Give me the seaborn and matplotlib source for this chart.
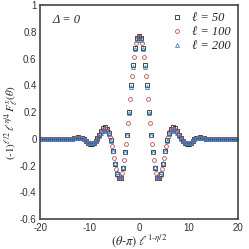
import matplotlib
matplotlib.use("Agg")
import matplotlib.pyplot as plt
import numpy as np
import pandas as pd
import seaborn as sns
from matplotlib.ticker import MultipleLocator

# scaled angle (theta - pi) * l^(1 - eta/2); l=100 sits half a step off the others
x_grid = np.arange(-20, 20.001, 0.4)
x_grid_half = np.arange(-19.8, 19.801, 0.4)

# values, left to right
y_l50 = [0, 0, 0, 0, 0, 0, 0, 0, 0, 0, 0,
         -0.001, -0.002, -0.003, -0.003, -0.002, 0.001, 0.005, 0.009, 0.011, 0.009,
         0.004, -0.005, -0.018, -0.032, -0.04, -0.04, -0.033, -0.018, 0.005, 0.03,
         0.06, 0.08, 0.085, 0.075, 0.045, -0.01, -0.09, -0.19, -0.26, -0.295,
         -0.29, -0.22, -0.10, 0.03, 0.20, 0.40, 0.55, 0.68, 0.75,
         0.77,
         0.75, 0.68, 0.55, 0.40, 0.20, 0.03, -0.10, -0.22, -0.29, -0.295,
         -0.26, -0.19, -0.09, -0.01, 0.045, 0.075, 0.085, 0.08, 0.06, 0.03,
         0.005, -0.018, -0.033, -0.04, -0.04, -0.032, -0.018, -0.005, 0.004, 0.009,
         0.011, 0.009, 0.005, 0.001, -0.002, -0.003, -0.003, -0.002, -0.001,
         0, 0, 0, 0, 0, 0, 0, 0, 0, 0, 0]

y_l100 = [0, 0, 0, 0, 0, 0, 0, 0, 0, 0, 0,
          -0.001, -0.002, -0.002, -0.002, 0.0, 0.002, 0.006, 0.008, 0.008, 0.005,
          0.0, -0.01, -0.021, -0.03, -0.034, -0.031, -0.023, -0.007, 0.014, 0.038,
          0.06, 0.072, 0.072, 0.056, 0.015, -0.05, -0.14, -0.225, -0.275, -0.295,
          -0.255, -0.16, -0.04, 0.115, 0.30, 0.47, 0.615, 0.715, 0.76,
          0.76, 0.715, 0.615, 0.47, 0.30, 0.115, -0.04, -0.16, -0.255, -0.295,
          -0.275, -0.225, -0.14, -0.05, 0.015, 0.056, 0.072, 0.072, 0.06, 0.038,
          0.014, -0.007, -0.023, -0.031, -0.034, -0.03, -0.021, -0.01, 0.0, 0.005,
          0.008, 0.008, 0.006, 0.002, 0.0, -0.002, -0.002, -0.002, -0.001,
          0, 0, 0, 0, 0, 0, 0, 0, 0, 0, 0]

y_l200 = [0, 0, 0, 0, 0, 0, 0, 0, 0, 0, 0,
          0, -0.001, -0.002, -0.002, -0.001, 0.001, 0.003, 0.006, 0.007, 0.006,
          0.003, -0.003, -0.012, -0.022, -0.028, -0.028, -0.024, -0.014, 0.002, 0.021,
          0.043, 0.058, 0.063, 0.058, 0.035, -0.015, -0.09, -0.18, -0.25, -0.285,
          -0.28, -0.21, -0.10, 0.025, 0.195, 0.39, 0.54, 0.67, 0.74,
          0.76,
          0.74, 0.67, 0.54, 0.39, 0.195, 0.025, -0.10, -0.21, -0.28, -0.285,
          -0.25, -0.18, -0.09, -0.015, 0.035, 0.058, 0.063, 0.058, 0.043, 0.021,
          0.002, -0.014, -0.024, -0.028, -0.028, -0.022, -0.012, -0.003, 0.003, 0.006,
          0.007, 0.006, 0.003, 0.001, -0.001, -0.002, -0.002, -0.001, 0,
          0, 0, 0, 0, 0, 0, 0, 0, 0, 0, 0]

series_labels = ["\u2113 = 50", "\u2113 = 100", "\u2113 = 200"]
series_x = [x_grid, x_grid_half, x_grid]
series_values = [y_l50, y_l100, y_l200]
series_colors = ["#2a2a2a", "#c0504d", "#3c7fc4"]
series_markers = ["s", "o", "^"]

sns.set_style("white")
plt.rcParams["mathtext.fontset"] = "stix"
plt.rcParams["font.family"] = ["Liberation Sans", "DejaVu Sans"]

fig = plt.figure(figsize=(2.49, 2.49), dpi=100)
ax = fig.add_axes([0.161, 0.12, 0.795, 0.86])

for label, xs, vals, col, mk in zip(series_labels, series_x, series_values,
                                    series_colors, series_markers):
    df = pd.DataFrame({"x": xs, "y": vals})
    sns.lineplot(data=df, x="x", y="y", ax=ax, color=col, marker=mk,
                 markersize=2.8, mfc="none", mec=col, mew=0.6,
                 linestyle="", label=label)

ax.set_xlim(-20, 20)
ax.set_ylim(-0.6, 1.0)
ax.xaxis.set_minor_locator(MultipleLocator(2))
ax.yaxis.set_minor_locator(MultipleLocator(0.05))
ax.set_yticks(np.arange(-0.6, 1.01, 0.2))
ax.set_yticklabels(["-0.6", "-0.4", "-0.2", "0", "0.2", "0.4", "0.6", "0.8", "1"])
ax.set_xticks([-20, -10, 0, 10, 20])
ax.set_xticklabels(["-20", "-10", "0", "10", "20"])
ax.tick_params(which="both", direction="in", top=False, right=False,
               labelsize=7, colors="#333333", pad=2.5)
ax.tick_params(which="major", length=4, width=0.8)
ax.tick_params(which="minor", length=2, width=0.6)

for side in ax.spines.values():
    side.set_color("#444444")
    side.set_linewidth(1.2)

ax.set_xlabel(r"$(\theta$-$\pi)\ \ell^{1\text{-}\eta/2}$", fontsize=9, labelpad=0)
ax.set_ylabel(r"$(\text{-}1)^{\ell/2}\,\ell^{\eta/4}\,F_\ell^{x}(\theta)$", fontsize=8)
ax.yaxis.set_label_coords(-0.1, 0.45)

ax.text(-17.5, 0.93, "\u0394 = 0", fontsize=9, style="italic",
        family=["Liberation Serif", "DejaVu Serif"], va="top")

ax.legend(loc="upper right", frameon=False,
          handlelength=0.8, handletextpad=0.8, labelspacing=0.15,
          borderaxespad=0.2,
          prop={"family": ["Liberation Serif", "DejaVu Serif"], "style": "italic", "size": 9})

fig.savefig("out.png", dpi=100)
